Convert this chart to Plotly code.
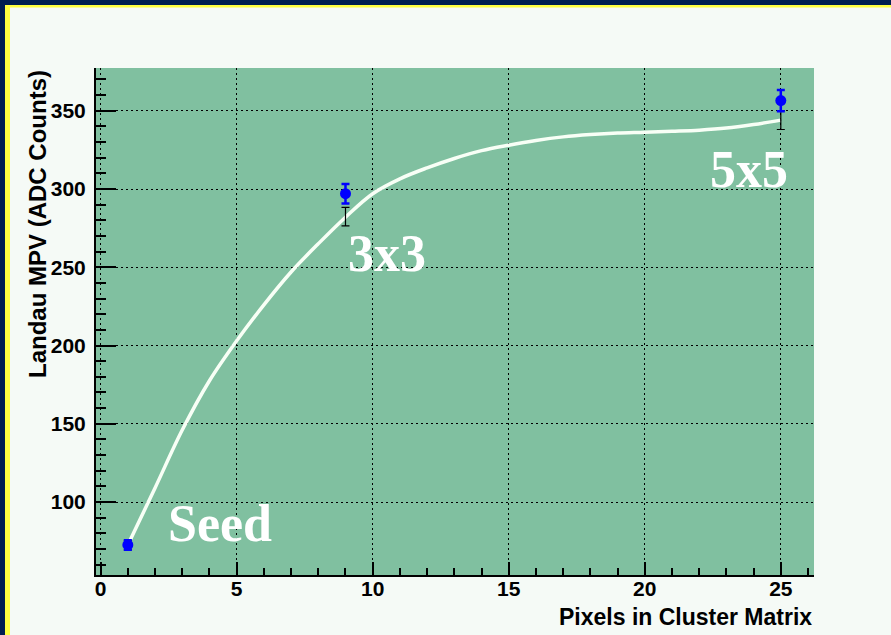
import plotly.graph_objects as go

# cluster size (pixels) vs Landau MPV
cluster_pixels = [1, 9, 25]
mpv_measured = [72.6, 297.0, 356.5]
mpv_measured_err = [3.0, 6.2, 6.8]
mpv_fit = [72.5, 282.3, 344.0]
mpv_fit_err = [3.0, 5.9, 6.0]
cluster_labels = ["Seed", "3x3", "5x5"]

# white fit curve
curve_x = list(range(1, 26))
curve_y = [72.5, 109.0, 146.0, 177.5, 203.0, 226.0, 247.0, 265.0, 282.0, 297.0,
           306.5, 313.5, 319.5, 324.5, 328.0, 331.0, 333.3, 334.8, 335.8, 336.3,
           336.9, 337.6, 338.9, 341.2, 344.0]

W, H = 891, 635
L, R, T, B = 96, 77, 68, 60
NAVY = "#001e50"
YELLOW = "#ffff40"
PANEL = "#f5faf6"
GREEN = "#80c0a0"


def px(x):
    return (x - L) / (W - L - R)


def py(y):
    return (H - B - y) / (H - T - B)


fig = go.Figure()
fig.add_scatter(x=curve_x, y=curve_y, mode="lines", line_shape="spline",
                line=dict(color="#f8fff6", width=3.5), hoverinfo="skip")
fig.add_scatter(x=cluster_pixels, y=mpv_fit, mode="markers",
                marker=dict(color="black", size=1),
                error_y=dict(type="data", array=mpv_fit_err, color="black",
                             thickness=1.2, width=4))
fig.add_scatter(x=cluster_pixels, y=mpv_measured, mode="markers",
                marker=dict(color="#0000ff", size=11),
                error_y=dict(type="data", array=mpv_measured_err, color="#0000ff",
                             thickness=2.5, width=4))

label_font = dict(family="Liberation Serif", size=52, color="white", weight="bold")
label_pos = [(4.39, 86.0), (10.54, 258.5), (23.82, 312.5)]
for text, (lx, ly) in zip(cluster_labels, label_pos):
    fig.add_annotation(x=lx, y=ly, text=text, showarrow=False,
                       xanchor="center", yanchor="middle", font=label_font)

fig.add_annotation(xref="paper", yref="paper", x=1.0, y=py(617),
                   text="Pixels in Cluster Matrix", showarrow=False,
                   xanchor="right", yanchor="middle",
                   font=dict(family="Liberation Sans", size=23, color="black",
                             weight="bold"))
fig.add_annotation(xref="paper", yref="paper", x=px(37), y=1.0,
                   text="Landau MPV (ADC Counts)", showarrow=False, textangle=-90,
                   xanchor="center", yanchor="top",
                   font=dict(family="Liberation Sans", size=24, color="black",
                             weight="bold"))

# slide: navy page, yellow rule, light panel, then the green plot frame
backdrop = [
    ("paper", 7, 5, W, H, YELLOW),
    ("paper", 10, 7.5, W, H, PANEL),
]
for ref, x0, y0, x1, y1, col in backdrop:
    fig.add_shape(type="rect", xref=ref, yref=ref,
                  x0=px(x0), x1=px(x1), y0=py(y0), y1=py(y1),
                  fillcolor=col, line_width=0, layer="below")
fig.add_shape(type="rect", xref="x domain", yref="y domain", x0=0, x1=1, y0=0, y1=1,
              fillcolor=GREEN, line_width=0, layer="below")
fig.add_shape(type="rect", xref="paper", yref="paper",
              x0=px(5), x1=px(7), y0=py(5), y1=py(H),
              fillcolor=YELLOW, line_width=0, layer="below")

grid = dict(showgrid=True, gridcolor="black", gridwidth=1.2, griddash="2px,3px",
            zeroline=False, showline=True, linecolor="black", linewidth=2,
            ticks="inside", tickcolor="black", tickwidth=2,
            tickfont=dict(family="Liberation Sans", size=21, color="black",
                          weight="bold"))

fig.update_xaxes(range=[-0.17, 26.22], tick0=0, dtick=5, ticklen=13,
                 ticklabelstandoff=-6,
                 minor=dict(dtick=1, ticks="inside", ticklen=7, tickcolor="black",
                            tickwidth=1.5, showgrid=False),
                 **grid)
fig.update_yaxes(range=[53.4, 377.3], tick0=0, dtick=50, ticklen=20,
                 ticklabelstandoff=4,
                 minor=dict(dtick=10, ticks="inside", ticklen=10, tickcolor="black",
                            tickwidth=1.5, showgrid=False),
                 **grid)

fig.update_layout(
    width=W, height=H,
    margin=dict(l=L, r=R, t=T, b=B),
    paper_bgcolor=NAVY,
    plot_bgcolor="rgba(0,0,0,0)",
    showlegend=False,
)

fig.write_html("out.html", config={"displayModeBar": False},
               post_script="document.body.style.margin='0';"
                           "document.body.style.overflow='hidden';")
